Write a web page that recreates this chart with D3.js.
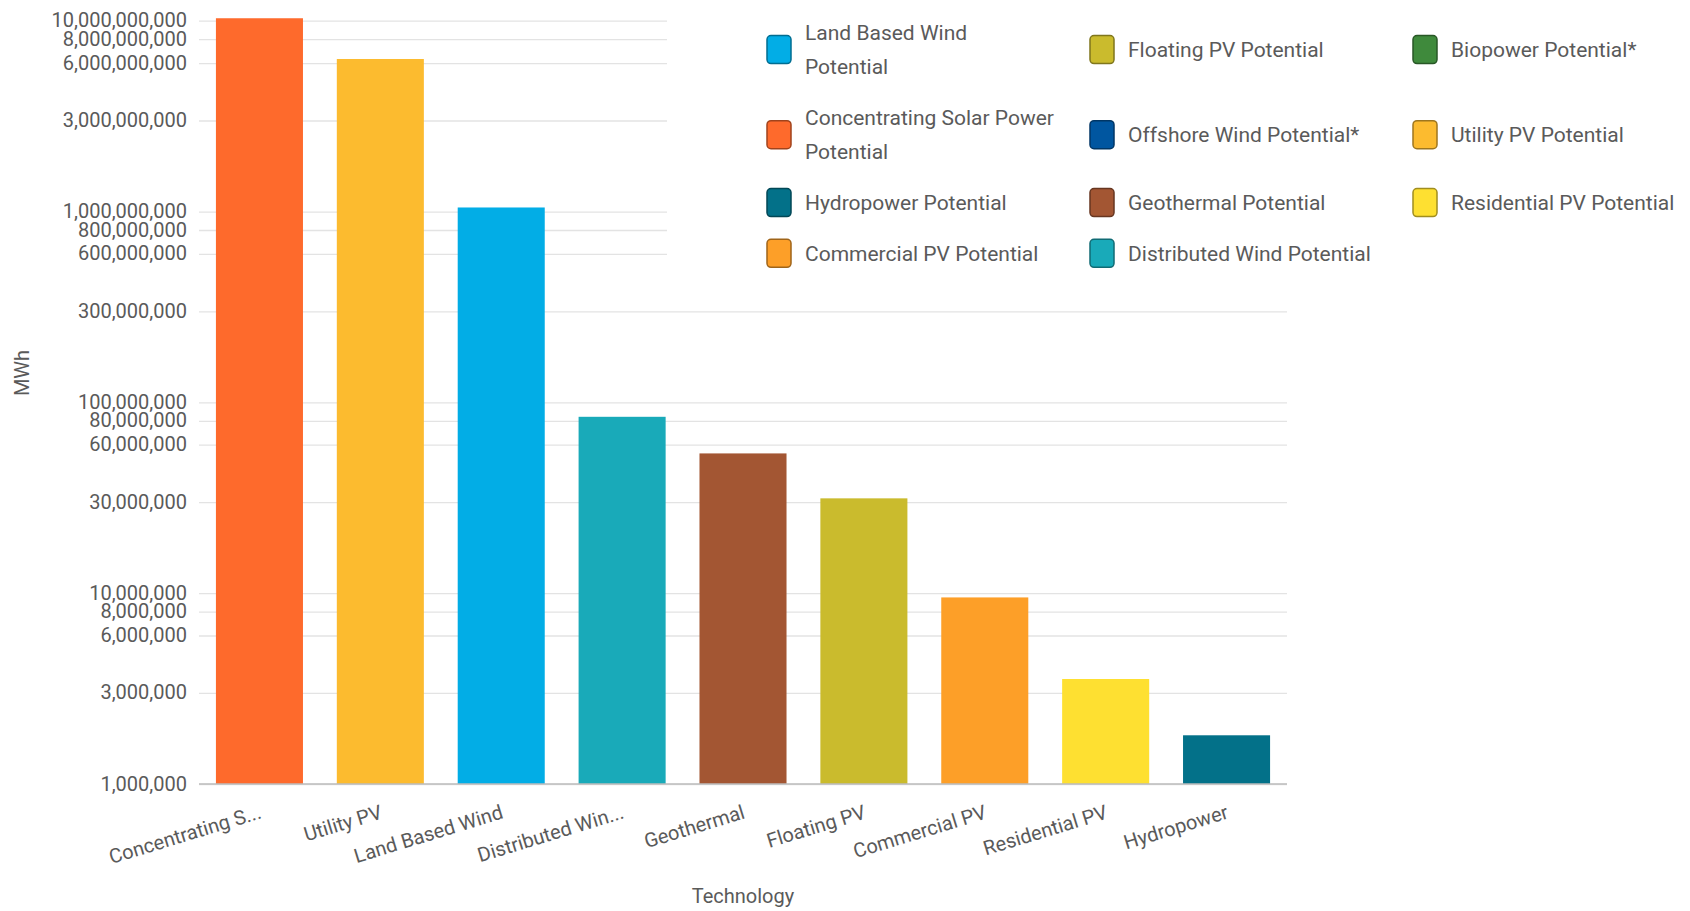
<!DOCTYPE html>
<html>
<head>
<meta charset="utf-8">
<script src="https://cdn.jsdelivr.net/npm/d3@7"></script>
<style>
  html, body { margin: 0; padding: 0; background: #ffffff; }
  svg { display: block; font-family: Roboto, "Noto Sans", sans-serif; }
</style>
</head>
<body>
<svg id="chart" width="1690" height="911"></svg>
<script>
// ---- data ----
const categories = ["Concentrating Solar Power", "Utility PV", "Land Based Wind", "Distributed Wind",
  "Geothermal", "Floating PV", "Commercial PV", "Residential PV", "Hydropower"];
const tickLabels = ["Concentrating S...", "Utility PV", "Land Based Wind", "Distributed Win...",
  "Geothermal", "Floating PV", "Commercial PV", "Residential PV", "Hydropower"];
const values = [1.03e10, 6.3e9, 1.05e9, 8.4e7, 5.4e7, 3.14e7, 9.5e6, 3.55e6, 1.8e6];
const barColors = ["#fe6a2c", "#fcbb2f", "#02ade6", "#19aab9", "#a35633", "#cabb2d", "#fd9f28", "#fee031", "#037189"];
const yTicks = [1e6, 3e6, 6e6, 8e6, 1e7, 3e7, 6e7, 8e7, 1e8, 3e8, 6e8, 8e8, 1e9, 3e9, 6e9, 8e9, 1e10];
const legendNames = [
  ["Land Based Wind", "Potential"], ["Floating PV Potential"], ["Biopower Potential*"],
  ["Concentrating Solar Power", "Potential"], ["Offshore Wind Potential*"], ["Utility PV Potential"],
  ["Hydropower Potential"], ["Geothermal Potential"], ["Residential PV Potential"],
  ["Commercial PV Potential"], ["Distributed Wind Potential"]
];
const legendColors = ["#02ade6", "#cabb2d", "#3f8a3c", "#fe6a2c", "#0056a0", "#fcbb2f",
  "#037189", "#a35633", "#fee031", "#fd9f28", "#19aab9"];
const yTitle = "MWh";
const xTitle = "Technology";

// ---- layout ----
const plot = { left: 199, right: 1287, top: 20.7, bottom: 784 };
const textColor = "#5a5a5a";
const svg = d3.select("#chart");

const x = d3.scaleBand().domain(categories).range([plot.left, plot.right])
  .paddingInner(0.28).paddingOuter(0.14);
const y = d3.scaleLog().domain([1e6, 1e10]).range([plot.bottom, plot.top]);

// gridlines + y labels
const yAxis = d3.axisLeft(y).tickValues(yTicks).tickFormat(d3.format(","))
  .tickSize(-(plot.right - plot.left)).tickPadding(12);
const gy = svg.append("g").attr("transform", `translate(${plot.left},0)`).call(yAxis);
gy.select(".domain").remove();
gy.selectAll(".tick line").attr("stroke", "#e3e3e3").attr("stroke-width", 1.3);
gy.selectAll(".tick text").attr("fill", textColor).attr("font-size", 20)
  .attr("font-family", "Roboto").attr("dy", "0.3em");

// bars
svg.append("g").selectAll("rect").data(categories).join("rect")
  .attr("x", d => x(d))
  .attr("width", x.bandwidth())
  .attr("y", (d, i) => y(values[i]))
  .attr("height", (d, i) => y(1e6) - y(values[i]))
  .attr("fill", (d, i) => barColors[i]);

// baseline
svg.append("line").attr("x1", plot.left).attr("x2", plot.right)
  .attr("y1", y(1e6)).attr("y2", y(1e6)).attr("stroke", "#bdbdbd").attr("stroke-width", 1.5);

// x labels
const xAxis = d3.axisBottom(x).tickSize(0).tickFormat((d, i) => tickLabels[i]);
const gx = svg.append("g").attr("transform", `translate(0,${plot.bottom})`).call(xAxis);
gx.select(".domain").remove();
gx.selectAll(".tick text")
  .attr("fill", textColor).attr("font-size", 20).attr("font-family", "Roboto")
  .attr("text-anchor", "end").attr("dy", 0).attr("y", 0)
  .attr("transform", "translate(3,34) rotate(-17)");

// axis titles
svg.append("text").attr("x", (plot.left + plot.right) / 2).attr("y", 903)
  .attr("text-anchor", "middle").attr("fill", textColor).attr("font-size", 20).text(xTitle);
svg.append("text").attr("transform", "translate(29,373) rotate(-90)")
  .attr("text-anchor", "middle").attr("fill", textColor).attr("font-size", 20).text(yTitle);

// legend
const legend = svg.append("g");
legend.append("rect").attr("x", 667).attr("y", 0).attr("width", 1690 - 667).attr("height", 292).attr("fill", "#ffffff");
const colX = [767, 1090, 1413];
const rowY = [49.6, 134.7, 202.6, 253.3];
const lineH = 33.4;
legendNames.forEach((lines, i) => {
  const col = i % 3, row = Math.floor(i / 3);
  const cx = colX[col], cy = rowY[row];
  const g = legend.append("g");
  g.append("rect").attr("x", cx).attr("y", cy - 14).attr("width", 24).attr("height", 28)
    .attr("rx", 4).attr("fill", legendColors[i])
    .attr("stroke", d3.color(legendColors[i]).darker(1.3)).attr("stroke-width", 1.5);
  const t = g.append("text").attr("fill", textColor).attr("font-size", 21);
  lines.forEach((ln, k) => {
    t.append("tspan").attr("x", cx + 38)
      .attr("y", cy + (k - (lines.length - 1) / 2) * lineH).attr("dy", "0.35em").text(ln);
  });
});
</script>
</body>
</html>
